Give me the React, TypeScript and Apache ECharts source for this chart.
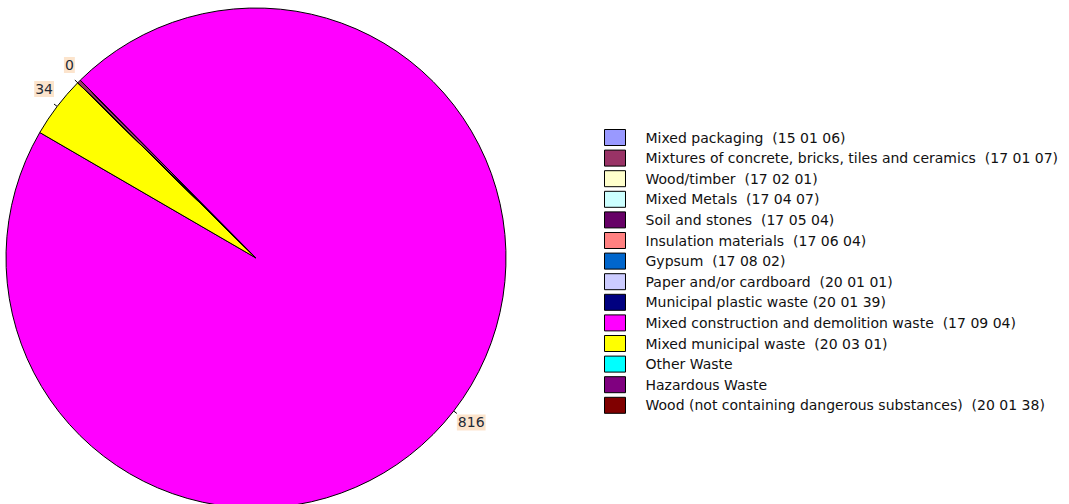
import React, { useEffect, useRef } from "react";
import * as echarts from "echarts";

const categories = [
  "Mixed packaging  (15 01 06)",
  "Mixtures of concrete, bricks, tiles and ceramics  (17 01 07)",
  "Wood/timber  (17 02 01)",
  "Mixed Metals  (17 04 07)",
  "Soil and stones  (17 05 04)",
  "Insulation materials  (17 06 04)",
  "Gypsum  (17 08 02)",
  "Paper and/or cardboard  (20 01 01)",
  "Municipal plastic waste (20 01 39)",
  "Mixed construction and demolition waste  (17 09 04)",
  "Mixed municipal waste  (20 03 01)",
  "Other Waste",
  "Hazardous Waste",
  "Wood (not containing dangerous substances)  (20 01 38)",
];

const values = [0, 2, 0, 0, 0, 0, 0, 0, 0, 816, 34, 0, 0, 0];

const colors = [
  "#9999FF", "#993366", "#FFFFCC", "#CCFFFF", "#660066", "#FF8080", "#0066CC",
  "#CCCCFF", "#000080", "#FF00FF", "#FFFF00", "#00FFFF", "#800080", "#800000",
];

// which slices show a value label, and whether it sits above or below its leader line
const labelledIndexes = [0, 9, 10];
const labelAbove = [true, false, false, false, false, false, false, false, false, false, true, false, false, false];

export default function App() {
  const ref = useRef<HTMLDivElement>(null);
  useEffect(() => {
    if (!ref.current) return;
    const chart = echarts.init(ref.current, undefined, { renderer: "svg" });
    const fontFamily = "DejaVu Sans";
    chart.setOption({
      animation: false,
      color: colors,
      legend: {
        orient: "vertical",
        left: 599,
        top: 124,
        itemWidth: 21,
        itemHeight: 16,
        itemGap: 3.6,
        icon: "rect",
        selectedMode: false,
        itemStyle: { borderColor: "#000", borderWidth: 1 },
        textStyle: {
          fontFamily,
          fontSize: 14,
          lineHeight: 16,
          color: "#111",
          padding: [0, 0, 0, 15],
        },
        data: categories,
      },
      series: [
        {
          type: "pie",
          center: [256, 258],
          radius: 250,
          startAngle: 135.5,
          clockwise: true,
          avoidLabelOverlap: false,
          stillShowZeroSum: true,
          itemStyle: { borderColor: "#000", borderWidth: 1 },
          emphasis: { disabled: true },
          labelLine: {
            show: true,
            length: 4,
            length2: 0,
            lineStyle: { color: "#000", width: 1 },
          },
          label: {
            position: "outside",
            distanceToLabelLine: 0,
            formatter: (p: any) => "{v|" + Math.round(p.value) + "}",
            rich: {
              v: {
                fontFamily,
                fontSize: 14,
                lineHeight: 16,
                color: "#1f2a36",
                backgroundColor: "#FCE4CC",
                padding: [1, 1, 1, 1],
              },
            },
          },
          data: categories.map((name, i) => ({
            name,
            value: values[i],
            label: {
              show: labelledIndexes.includes(i),
              padding: labelAbove[i] ? [0, 0, 30, 0] : [18, 0, 0, 0],
            },
            labelLine: { show: labelledIndexes.includes(i) },
          })),
        },
      ],
    });
    return () => chart.dispose();
  }, []);
  return (
    <div
      ref={ref}
      style={{ position: "absolute", left: 0, top: 0, width: 1069, height: 504 }}
    />
  );
}
